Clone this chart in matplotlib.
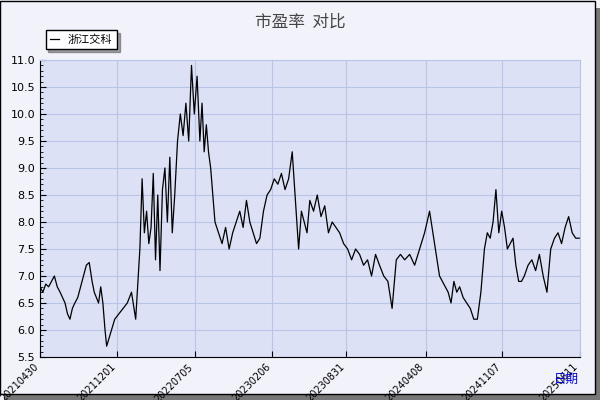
import matplotlib
matplotlib.use("Agg")
import matplotlib.pyplot as plt
from matplotlib.patches import Rectangle
from matplotlib.ticker import MultipleLocator
import pandas as pd
import matplotlib.dates as mdates

plt.rcParams['font.family'] = ['Noto Sans CJK SC', 'DejaVu Sans']

# segments: (start date, readings within that segment)
seg_starts = ['2021-04-30', '2021-06-25', '2021-08-05', '2021-09-22', '2021-10-28',
              '2021-11-24', '2022-02-02', '2022-03-30', '2022-05-10', '2022-07-19',
              '2022-08-30', '2022-11-07', '2023-01-02', '2023-04-12', '2023-05-21',
              '2023-08-12', '2023-12-01', '2024-02-09', '2024-05-16', '2024-07-11',
              '2024-09-18', '2024-11-13', '2025-01-07', '2025-04-01']
end_date = '2025-06-09'
seg_values = [
    [6.8, 6.7, 6.85, 6.8, 6.9, 7.0, 6.8],
    [6.7, 6.6, 6.5, 6.3, 6.2, 6.4],
    [6.5, 6.6, 6.8, 7.0, 7.2, 7.25],
    [6.9, 6.7, 6.6, 6.5, 6.8, 6.5],
    [6.0, 5.7, 5.8, 5.9, 6.0, 6.1],
    [6.2, 6.3, 6.4, 6.5, 6.7, 6.2],
    [7.5, 8.8, 7.8, 8.2, 7.6, 7.9, 8.9, 7.3, 8.5],
    [7.1, 8.6, 9.0, 8.0, 9.2, 7.8],
    [8.5, 9.5, 10.0, 9.6, 10.2, 9.5, 10.9, 10.0, 10.7],
    [9.5, 10.2, 9.3, 9.8, 9.3, 9.0, 8.5],
    [8.0, 7.8, 7.6, 7.9, 7.5, 7.8, 8.0],
    [8.2, 7.9, 8.4, 8.0, 7.8, 7.6],
    [7.7, 8.2, 8.5, 8.6, 8.8, 8.7, 8.9, 8.6, 8.8, 9.3],
    [8.3, 7.5, 8.2, 8.0, 7.8],
    [8.4, 8.2, 8.5, 8.1, 8.3, 7.8, 8.0, 7.9],
    [7.8, 7.6, 7.5, 7.3, 7.5, 7.4, 7.2, 7.3, 7.0, 7.4],
    [7.2, 7.0, 6.9, 6.4, 7.3, 7.4],
    [7.3, 7.4, 7.2, 7.5, 7.8, 8.2, 7.6],
    [7.0, 6.9, 6.8, 6.7, 6.5, 6.9, 6.7],
    [6.8, 6.6, 6.5, 6.4, 6.2, 6.2, 6.7],
    [7.5, 7.8, 7.7, 8.0, 8.6, 7.8, 8.2],
    [7.9, 7.5, 7.6, 7.7, 7.2, 6.9, 6.9],
    [7.0, 7.2, 7.3, 7.1, 7.4, 7.0, 6.7, 7.5],
    [7.7, 7.8, 7.6, 7.9, 8.1, 7.8, 7.7],
]
tick_labels = ['20210430', '20211201', '20220705', '20230206',
               '20230831', '20240408', '20241107', '20250611']

dates, pe = [], []
bounds = seg_starts + [end_date]
for k, vals in enumerate(seg_values):
    rng = pd.date_range(bounds[k], bounds[k + 1], periods=len(vals) + 1)[:-1]
    dates.extend(rng)
    pe.extend(vals)
dates.append(pd.Timestamp(end_date))
pe.append(seg_values[-1][-1])

fig = plt.figure(figsize=(6, 4), dpi=100, facecolor='#f2f2fa')
fig.patches.append(Rectangle((4/600, 0), 596/600, 392/400, transform=fig.transFigure,
                             facecolor='#777777', edgecolor='none', zorder=-2))
fig.patches.append(Rectangle((0, 6/400), 595/600, 393/400, transform=fig.transFigure,
                             facecolor='#f2f2fa', edgecolor='black', lw=1, zorder=-1))

ax = fig.add_axes([40/600, 43/400, 540/600, 297/400])
ax.set_facecolor('#dce1f5')
ax.plot(dates, pe, color='black', lw=0.9, label='浙江交科')
ax.set_xlim(pd.Timestamp(seg_starts[0]), pd.Timestamp(end_date))
ax.set_ylim(5.5, 11.0)
ax.yaxis.set_major_locator(MultipleLocator(0.5))
ax.yaxis.set_minor_locator(MultipleLocator(0.1))
ax.set_xticks([pd.Timestamp(t) for t in tick_labels])
ax.set_xticklabels(tick_labels, rotation=45, ha='right', fontsize=7, family='DejaVu Sans')
ax.set_yticklabels([f'{v:.1f}' for v in ax.get_yticks()], fontsize=8, family='DejaVu Sans')
ax.grid(True, color='#b8c4e8', lw=0.8)
for s in ['top', 'right']:
    ax.spines[s].set_color('#b8c4e8')
ax.tick_params(axis='both', direction='in', length=4)
ax.tick_params(axis='y', which='minor', direction='in', length=2)
ax.set_axisbelow(True)
fig.text(0.5, 0.965, '市盈率  对比', ha='center', va='top', fontsize=12, color='#444444')
fig.text(0.965, 0.035, '日期', ha='right', va='bottom', fontsize=9, color='#0000cc')
leg = ax.legend(loc='upper left', bbox_to_anchor=(0.0, 1.12), fontsize=8, frameon=True,
                fancybox=False, handlelength=0.8, borderpad=0.4, shadow=True)
leg.get_frame().set_edgecolor('black')
fig.savefig('out.png', dpi=100, facecolor=fig.get_facecolor())
